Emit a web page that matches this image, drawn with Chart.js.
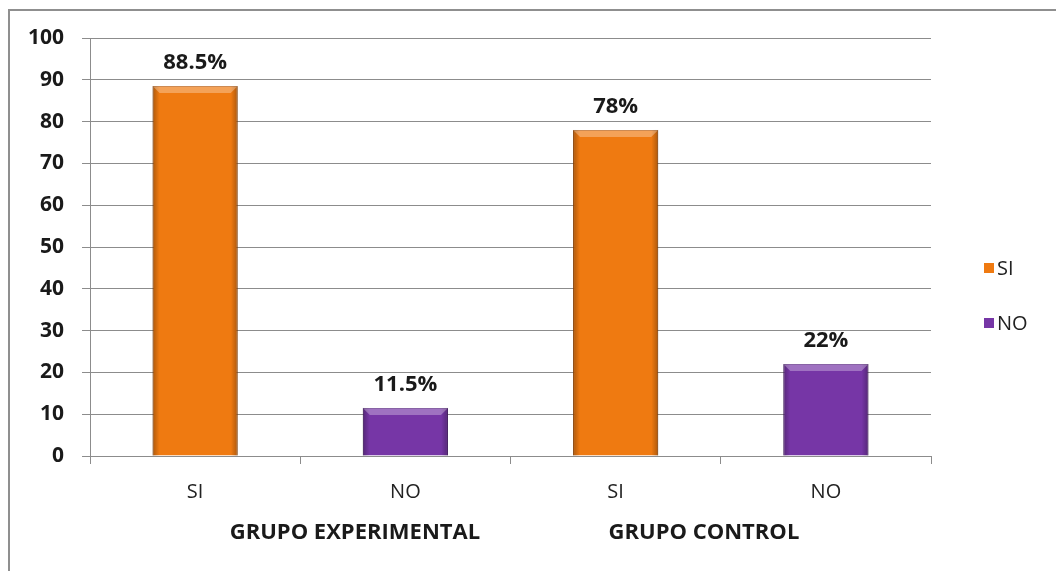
<!DOCTYPE html>
<html>
<head>
<meta charset="utf-8">
<script src="https://cdn.jsdelivr.net/npm/chart.js@4.4.1/dist/chart.umd.min.js"></script>
<style>
html, body { margin: 0; padding: 0; background: #fff; }
#frame { position: absolute; left: 8px; top: 9px; right: 0; bottom: 0; border-top: 2px solid #8f8f8f; border-left: 2px solid #8f8f8f; }
#box { position: absolute; left: 0; top: 0; width: 1056px; height: 571px; }
</style>
</head>
<body>
<div id="frame"></div>
<div id="box"><canvas id="chart"></canvas></div>
<script>
const categories = ['SI', 'NO', 'SI', 'NO'];
const groups = ['GRUPO EXPERIMENTAL', 'GRUPO CONTROL'];
const seriesNames = ['SI', 'NO'];
const siValues = [88.5, null, 78, null];
const noValues = [null, 11.5, null, 22];
const yMax = 100;
const yStep = 10;

const FONT = '"Open Sans", "Liberation Sans", sans-serif';
const ORANGE = '#EF7A11';
const PURPLE = '#7636A6';

// bevel look + value labels above each bar
const barDecor = {
    id: 'barDecor',
    afterDatasetsDraw(chart) {
        const ctx = chart.ctx;
        ctx.save();
        chart.data.datasets.forEach((ds, i) => {
            const meta = chart.getDatasetMeta(i);
            meta.data.forEach((bar, j) => {
                if (ds.data[j] == null) return;
                const p = bar.getProps(['x', 'y', 'base', 'width'], true);
                const l = p.x - p.width / 2, r = p.x + p.width / 2;
                const g = ctx.createLinearGradient(l, 0, r, 0);
                g.addColorStop(0, 'rgba(0,0,0,0.28)');
                g.addColorStop(0.08, 'rgba(0,0,0,0)');
                g.addColorStop(0.92, 'rgba(0,0,0,0)');
                g.addColorStop(1, 'rgba(0,0,0,0.28)');
                ctx.fillStyle = g;
                ctx.fillRect(l, p.y, p.width, p.base - p.y);
                const b = 7;
                ctx.beginPath();
                ctx.moveTo(l, p.y);
                ctx.lineTo(r, p.y);
                ctx.lineTo(r - b, p.y + b);
                ctx.lineTo(l + b, p.y + b);
                ctx.closePath();
                ctx.fillStyle = 'rgba(255,255,255,0.3)';
                ctx.fill();

                ctx.fillStyle = '#1a1a1a';
                ctx.font = 'bold 22px ' + FONT;
                ctx.textAlign = 'center';
                ctx.textBaseline = 'alphabetic';
                ctx.fillText(ds.data[j] + '%', p.x, p.y - 17);
            });
        });
        ctx.restore();
    },
    afterDraw(chart) {
        const ctx = chart.ctx;
        const x = chart.scales.x;
        const area = chart.chartArea;
        ctx.save();
        // group names under the category labels
        ctx.fillStyle = '#1a1a1a';
        ctx.font = 'bold 22px ' + FONT;
        ctx.textAlign = 'center';
        ctx.textBaseline = 'alphabetic';
        ctx.fillText(groups[0], x.getPixelForValue(0.76), 539);
        ctx.fillText(groups[1], x.getPixelForValue(2.42), 539);

        // legend
        const lx = area.right + 53;
        const cy = [268, 323];
        chart.data.datasets.forEach((ds, i) => {
            ctx.fillStyle = ds.backgroundColor;
            ctx.fillRect(lx, cy[i] - 5, 10, 10);
            ctx.fillStyle = '#222';
            ctx.font = '20px ' + FONT;
            ctx.textAlign = 'left';
            ctx.textBaseline = 'middle';
            ctx.fillText(ds.label, lx + 13, cy[i] + 1);
        });
        ctx.restore();
    }
};

new Chart(document.getElementById('chart'), {
    type: 'bar',
    data: {
        labels: categories,
        datasets: [
            { label: seriesNames[0], data: siValues, backgroundColor: ORANGE, borderColor: '#B85808', borderWidth: 1, grouped: false },
            { label: seriesNames[1], data: noValues, backgroundColor: PURPLE, borderColor: '#55207E', borderWidth: 1, grouped: false }
        ]
    },
    options: {
        responsive: true,
        maintainAspectRatio: false,
        animation: false,
        barPercentage: 0.405,
        categoryPercentage: 1,
        layout: { padding: { left: 10, top: 38, right: 125, bottom: 51 } },
        plugins: {
            legend: { display: false },
            tooltip: { enabled: false }
        },
        scales: {
            x: {
                grid: { display: true, drawOnChartArea: false, color: '#8c8c8c', tickLength: 8 },
                border: { color: '#8c8c8c' },
                ticks: { color: '#222', font: { family: FONT, size: 20 }, padding: 16 }
            },
            y: {
                min: 0,
                max: yMax,
                ticks: { stepSize: yStep, color: '#1a1a1a', font: { family: FONT, size: 21, weight: 'bold' }, padding: 18 },
                grid: { color: '#8c8c8c', tickLength: 8 },
                border: { color: '#8c8c8c' }
            }
        }
    },
    plugins: [barDecor]
});
</script>
</body>
</html>
